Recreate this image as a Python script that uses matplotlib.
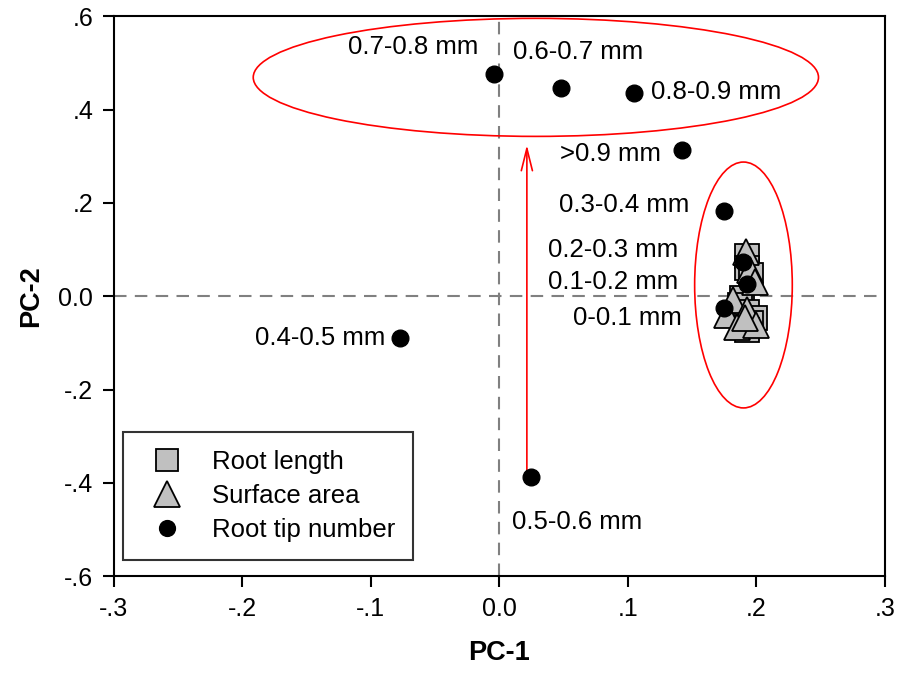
import matplotlib.pyplot as plt
from matplotlib.patches import Ellipse

plt.rcParams['font.family'] = ['Liberation Sans', 'DejaVu Sans']

# root length scores (squares)
len_x = [0.193, 0.193, 0.196, 0.189, 0.187, 0.193, 0.199, 0.196, 0.193]
len_y = [0.086, 0.060, 0.045, -0.004, -0.019, -0.034, -0.047, -0.058, -0.073]

# surface area scores (triangles)
area_x = [0.192, 0.195, 0.199, 0.182, 0.193, 0.177, 0.185, 0.200, 0.191]
area_y = [0.094, 0.056, 0.030, -0.009, -0.030, -0.041, -0.066, -0.062, -0.047]

# root tip number scores (circles)
tip_names = ["0.7-0.8 mm", "0.6-0.7 mm", "0.8-0.9 mm", ">0.9 mm", "0.3-0.4 mm",
             "0.2-0.3 mm", "0.1-0.2 mm", "0-0.1 mm", "0.4-0.5 mm", "0.5-0.6 mm"]
tip_x = [-0.004, 0.048, 0.105, 0.142, 0.175, 0.190, 0.193, 0.175, -0.077, 0.0245]
tip_y = [0.476, 0.446, 0.435, 0.313, 0.182, 0.073, 0.026, -0.026, -0.090, -0.388]

# where each label sits and how it is anchored
lab_x = [-0.067, 0.061, 0.118, 0.126, 0.148, 0.139, 0.139, 0.142, -0.089, 0.0097]
lab_y = [0.534, 0.523, 0.437, 0.304, 0.195, 0.100, 0.030, -0.047, -0.090, -0.485]
lab_ha = ["center", "center", "left", "right", "right", "right", "right", "right", "right", "left"]

xticks = [-0.3, -0.2, -0.1, 0.0, 0.1, 0.2, 0.3]
xticklabels = ["-.3", "-.2", "-.1", "0.0", ".1", ".2", ".3"]
yticks = [-0.6, -0.4, -0.2, 0.0, 0.2, 0.4, 0.6]
yticklabels = ["-.6", "-.4", "-.2", "0.0", ".2", ".4", ".6"]

fig = plt.figure(figsize=(9.01, 6.77), dpi=100)
ax = fig.add_axes([0.1265, 0.149, 0.8555, 0.827])

ax.axhline(0, color="gray", ls=(0, (6, 4)), lw=1.5, zorder=1)
ax.axvline(0, color="gray", ls=(0, (6, 4)), lw=1.5, zorder=1)

ax.plot(len_x, len_y, "s", ms=17, mfc="#c0c0c0", mec="black", mew=1.3,
        ls="none", label="Root length", zorder=3)
ax.plot(area_x, area_y, "^", ms=19, mfc="#c0c0c0", mec="black", mew=1.3,
        ls="none", label="Surface area", zorder=4)
ax.plot(tip_x, tip_y, "o", ms=12, mfc="black", mec="black",
        ls="none", label="Root tip number", zorder=5)

for name, x, y, ha in zip(tip_names, lab_x, lab_y, lab_ha):
    ax.text(x, y, name, ha=ha, va="center", fontsize=18.5, zorder=6)

ax.add_patch(Ellipse((0.0284, 0.469), 0.44, 0.253, fill=False, ec="red", lw=1.2, zorder=2))
ax.add_patch(Ellipse((0.190, 0.024), 0.076, 0.527, fill=False, ec="red", lw=1.2, zorder=2))
ax.annotate("", xy=(0.0214, 0.33), xytext=(0.0214, -0.384),
            arrowprops=dict(arrowstyle="->,head_length=1.6,head_width=0.4",
                            color="red", lw=1.2), zorder=2)

ax.set_xlim(-0.3, 0.3)
ax.set_ylim(-0.6, 0.6)
ax.set_xticks(xticks)
ax.set_xticklabels(xticklabels)
ax.set_yticks(yticks)
ax.set_yticklabels(yticklabels)
ax.tick_params(direction="out", length=8, width=1.5, labelsize=18, pad=7)
for s in ax.spines.values():
    s.set_linewidth(1.5)

ax.set_xlabel("PC-1", fontsize=19.5, fontweight="bold", labelpad=14)
ax.set_ylabel("PC-2", fontsize=19.5, fontweight="bold", labelpad=10)

leg = ax.legend(loc="lower left", bbox_to_anchor=(0.0117, 0.0286), borderaxespad=0,
                fontsize=18.5, frameon=True, fancybox=False, edgecolor="black",
                borderpad=0.7, handletextpad=0.75, labelspacing=0.4,
                markerscale=0.95)
leg.get_frame().set_linewidth(1.5)

fig.savefig("out.png", dpi=100)
